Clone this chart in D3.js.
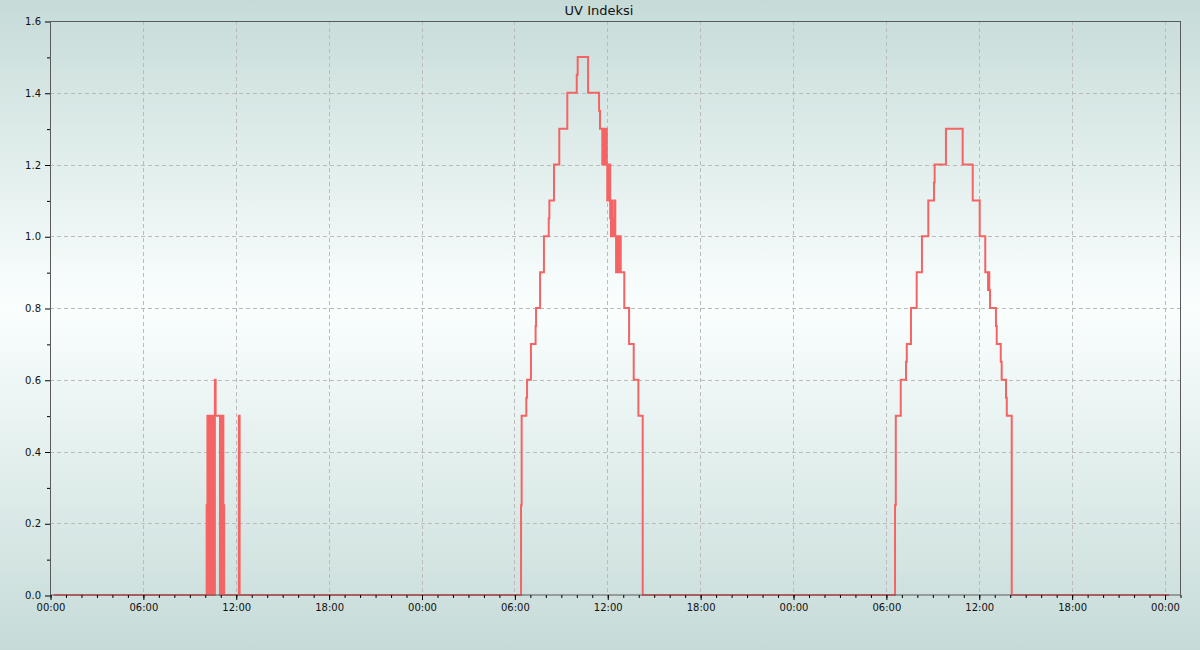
<!DOCTYPE html>
<html>
<head>
<meta charset="utf-8">
<script src="https://cdn.jsdelivr.net/npm/d3@7"></script>
<style>
  html, body { margin: 0; padding: 0; }
  body { width: 1200px; height: 650px; overflow: hidden; }
  svg { display: block; font-family: "DejaVu Sans", sans-serif; }
</style>
</head>
<body>
<svg id="chart" width="1200" height="650"></svg>
<script>
// ---- data (hours since the first midnight, UV index; step changes) ----
const chartTitle = "UV Indeksi";
const stepHours = [
  0.26, 10.12, 10.17, 10.21, 10.24, 10.28, 10.31, 10.35, 10.38, 10.42, 10.45, 10.49, 10.52, 10.56,
  10.59, 10.62, 10.65, 10.70,
  10.98, 11.02, 11.05, 11.09, 11.12, 11.16, 11.20, 11.25, 12.20, 12.25,
  30.43, 30.47, 30.77, 30.82, 31.07, 31.37, 31.40, 31.66, 31.91, 32.22, 32.26, 32.56, 32.90, 33.42,
  34.03, 34.09, 34.76, 35.47, 35.53, 35.68, 35.73, 35.78, 35.83, 35.88, 35.93, 35.97, 36.00, 36.05,
  36.10, 36.15, 36.19, 36.24, 36.28, 36.32, 36.36, 36.42, 36.46, 36.52, 36.57, 36.62, 36.67, 36.72,
  36.77, 36.82, 36.87, 37.10, 37.41, 37.71, 38.01, 38.29,
  54.59, 54.64, 54.96, 55.30, 55.35, 55.62, 55.99, 56.33, 56.74, 57.11, 57.15, 57.88, 58.96, 59.61,
  60.06, 60.42, 60.60, 60.64, 60.68, 60.73, 61.11, 61.16, 61.42, 61.48, 61.76, 61.81, 62.13, 72.31
];
const uvValues = [
  0, 0.25, 0.5, 0, 0.5, 0, 0.5, 0, 0.5, 0, 0.5, 0, 0.5, 0,
  0.5, 0, 0.6, 0.5,
  0, 0.5, 0, 0.5, 0, 0.5, 0.25, 0, 0.5, 0,
  0.25, 0.5, 0.55, 0.6, 0.7, 0.75, 0.8, 0.9, 1.0, 1.05, 1.1, 1.2, 1.3, 1.4,
  1.45, 1.5, 1.4, 1.35, 1.3, 1.2, 1.3, 1.2, 1.3, 1.2, 1.3, 1.2, 1.1, 1.2,
  1.1, 1.2, 1.05, 1.0, 1.1, 1.0, 1.05, 1.0, 1.1, 1.0, 0.9, 1.0, 0.9, 1.0,
  0.9, 1.0, 0.9, 0.8, 0.7, 0.6, 0.5, 0,
  0.25, 0.5, 0.6, 0.65, 0.7, 0.8, 0.9, 1.0, 1.1, 1.15, 1.2, 1.3, 1.2, 1.1,
  1.0, 0.9, 0.85, 0.9, 0.85, 0.8, 0.75, 0.7, 0.65, 0.6, 0.55, 0.5, 0, 0
];
const domainHours = [0, 73];
const majorTickHours = [0, 6, 12, 18, 24, 30, 36, 42, 48, 54, 60, 66, 72];
const yMajorTicks = [0, 0.2, 0.4, 0.6, 0.8, 1.0, 1.2, 1.4, 1.6];
const yMinorTicks = [0.1, 0.3, 0.5, 0.7, 0.9, 1.1, 1.3, 1.5];

// ---- layout ----
const W = 1200, H = 650;
const m = { left: 50, right: 20, top: 21, bottom: 55 };
const iw = W - m.left - m.right, ih = H - m.top - m.bottom;

const base = Date.UTC(2024, 0, 1);
const toDate = h => new Date(base + h * 3600000);

const svg = d3.select("#chart");

// background gradient
const defs = svg.append("defs");
const grad = defs.append("linearGradient").attr("id", "bg")
  .attr("x1", 0).attr("y1", 0).attr("x2", 0).attr("y2", 1);
grad.append("stop").attr("offset", "0%").attr("stop-color", "#c6dbd8");
grad.append("stop").attr("offset", "47%").attr("stop-color", "#fafffe");
grad.append("stop").attr("offset", "100%").attr("stop-color", "#c6dbd8");
svg.append("rect").attr("width", W).attr("height", H).attr("fill", "url(#bg)");

const x = d3.scaleUtc().domain(domainHours.map(toDate)).range([m.left, m.left + iw]);
const y = d3.scaleLinear().domain([0, 1.6]).range([m.top + ih, m.top]);

// grid
const grid = svg.append("g").attr("stroke", "#bbbbbb").attr("stroke-dasharray", "4,3").attr("stroke-width", 1);
grid.selectAll("line.gx").data(majorTickHours.filter(h => h > 0)).join("line")
  .attr("x1", d => Math.round(x(toDate(d))) + 0.5).attr("x2", d => Math.round(x(toDate(d))) + 0.5)
  .attr("y1", m.top).attr("y2", m.top + ih);
grid.selectAll("line.gy").data(yMajorTicks.filter(v => v > 0 && v < 1.6)).join("line")
  .attr("y1", d => Math.round(y(d)) + 0.5).attr("y2", d => Math.round(y(d)) + 0.5)
  .attr("x1", m.left).attr("x2", m.left + iw);

// line
const data = stepHours.map((h, i) => ({ t: toDate(h), v: uvValues[i] }));
const line = d3.line().x(d => x(d.t)).y(d => y(d.v)).curve(d3.curveStepAfter);
svg.append("path").datum(data).attr("d", line)
  .attr("fill", "none").attr("stroke", "#f46464").attr("stroke-width", 2)
  .attr("stroke-linejoin", "miter");

// frame
svg.append("rect").attr("x", m.left + 0.5).attr("y", m.top + 0.5)
  .attr("width", iw).attr("height", ih - 0.5)
  .attr("fill", "none").attr("stroke", "#5a5a5a").attr("stroke-width", 1);

// x axis
const xMinor = d3.range(domainHours[0], domainHours[1] + 1).map(toDate);
const xAxisMinor = d3.axisBottom(x).tickValues(xMinor).tickSize(3).tickFormat("");
const gxm = svg.append("g").attr("transform", `translate(0.5,${m.top + ih})`).call(xAxisMinor);
gxm.select(".domain").remove();
gxm.selectAll("line").attr("stroke", "#000");
const xAxis = d3.axisBottom(x).tickValues(majorTickHours.map(toDate)).tickSize(5).tickPadding(4)
  .tickFormat(d3.utcFormat("%H:%M"));
const gx = svg.append("g").attr("transform", `translate(0.5,${m.top + ih})`).call(xAxis);
gx.select(".domain").remove();
gx.selectAll("line").attr("stroke", "#000");
gx.selectAll("text").attr("font-size", 10).attr("fill", "#111").attr("font-family", "DejaVu Sans");

// y axis
const yAxisMinor = d3.axisLeft(y).tickValues(yMinorTicks).tickSize(3).tickFormat("");
const gym = svg.append("g").attr("transform", `translate(${m.left},0.5)`).call(yAxisMinor);
gym.select(".domain").remove();
gym.selectAll("line").attr("stroke", "#000");
const yAxis = d3.axisLeft(y).tickValues(yMajorTicks).tickSize(5).tickPadding(4).tickFormat(d3.format(".1f"));
const gy = svg.append("g").attr("transform", `translate(${m.left},0.5)`).call(yAxis);
gy.select(".domain").remove();
gy.selectAll("line").attr("stroke", "#000");
gy.selectAll("text").attr("font-size", 10).attr("fill", "#111").attr("font-family", "DejaVu Sans");

// title
svg.append("text").attr("x", W / 2 - 1).attr("y", 15)
  .attr("text-anchor", "middle").attr("font-size", 13).attr("fill", "#111")
  .text(chartTitle);
</script>
</body>
</html>
